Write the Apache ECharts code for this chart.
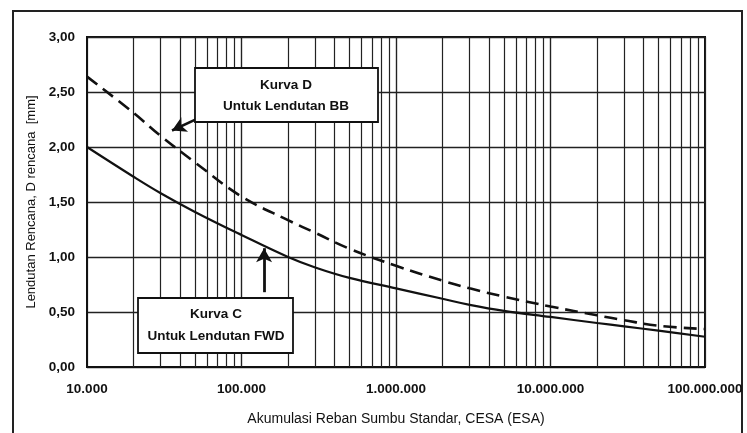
<!DOCTYPE html>
<html>
<head>
<meta charset="utf-8">
<script src="https://cdn.jsdelivr.net/npm/echarts@6/dist/echarts.min.js"></script>
<style>
html,body{margin:0;padding:0;background:#fff;}
#c{width:747px;height:433px;}
</style>
</head>
<body>
<div id="c"></div>
<script>
// ---- data ----
var esaValues = [1e4, 2e4, 3e4, 5e4, 1e5, 2e5, 3e5, 5e5, 1e6, 2e6, 3e6, 5e6, 1e7, 2e7, 3e7, 5e7, 1e8];
var kurvaD = [2.64, 2.31, 2.10, 1.86, 1.55, 1.335, 1.22, 1.075, 0.92, 0.785, 0.715, 0.64, 0.55, 0.47, 0.425, 0.375, 0.345];
var kurvaC = [2.00, 1.73, 1.58, 1.41, 1.20, 1.00, 0.905, 0.81, 0.715, 0.62, 0.565, 0.51, 0.455, 0.40, 0.37, 0.33, 0.275];
var xTickLabels = ['10.000', '100.000', '1.000.000', '10.000.000', '100.000.000'];
var minorGridX = [];
[1e4, 1e5, 1e6, 1e7].forEach(function (d) {
  for (var k = 2; k <= 10; k++) { if (!(k === 10 && d === 1e7)) minorGridX.push(k * d); }
});
var labelD = ['Kurva D', 'Untuk Lendutan BB'];
var labelC = ['Kurva C', 'Untuk Lendutan FWD'];
var arrowD = [[5.4e4, 2.27], [3.55e4, 2.15]];
var arrowC = [[1.4e5, 0.68], [1.4e5, 1.08]];

var FONT = '"Liberation Sans", Arial, sans-serif';
var chart = echarts.init(document.getElementById('c'));

function pairs(xs, ys) { return xs.map(function (x, i) { return [x, ys[i]]; }); }

var option = {
  animation: false,
  backgroundColor: '#fff',
  grid: { left: 87, right: 42, top: 37, bottom: 66, show: true, borderColor: '#111', borderWidth: 2, containLabel: false },
  xAxis: {
    type: 'log', logBase: 10, min: 1e4, max: 1e8,
    axisLine: { show: true, lineStyle: { color: '#111', width: 2 } },
    axisTick: { show: false },
    splitLine: { show: true, lineStyle: { color: '#222', width: 1.2 } },
    axisLabel: {
      margin: 15, fontFamily: FONT, fontSize: 13.5, color: '#111', fontWeight: 'bold',
      formatter: function (v) {
        var i = Math.round(Math.log10(v)) - 4;
        return xTickLabels[i] || '';
      }
    },
    name: 'Akumulasi Reban Sumbu Standar, CESA (ESA)',
    nameLocation: 'middle', nameGap: 45,
    nameTextStyle: { fontFamily: FONT, fontSize: 14, color: '#111' }
  },
  yAxis: {
    type: 'value', min: 0, max: 3, interval: 0.5,
    axisLine: { show: true, lineStyle: { color: '#111', width: 2 } },
    axisTick: { show: false },
    splitLine: { show: true, lineStyle: { color: '#222', width: 1.3 } },
    axisLabel: {
      margin: 12, fontFamily: FONT, fontSize: 13.5, color: '#111', fontWeight: 'bold',
      formatter: function (v) { return v.toFixed(2).replace('.', ','); }
    },
    name: 'Lendutan Rencana, D rencana  [mm]',
    nameLocation: 'middle', nameGap: 41, nameRotate: 90,
    nameTextStyle: { fontFamily: FONT, fontSize: 13, color: '#111' }
  },
  series: [
    {
      name: 'grid', type: 'line', data: [], silent: true,
      markLine: {
        silent: true, symbol: ['none', 'none'], label: { show: false },
        lineStyle: { color: '#222', width: 1.2, type: 'solid' },
        data: minorGridX.map(function (x) { return { xAxis: x }; })
      }
    },
    {
      name: 'Kurva D', type: 'line', data: pairs(esaValues, kurvaD), smooth: 0.4,
      showSymbol: false, lineStyle: { color: '#111', width: 2.6, type: [13, 7] }, z: 5,
      markLine: {
        silent: true, symbol: ['none', 'arrow'], symbolSize: [12, 14], label: { show: false },
        lineStyle: { color: '#111', width: 2.5, type: 'solid' },
        data: [[{ coord: arrowD[0] }, { coord: arrowD[1] }]]
      }
    },
    {
      name: 'Kurva C', type: 'line', data: pairs(esaValues, kurvaC), smooth: 0.4,
      showSymbol: false, lineStyle: { color: '#111', width: 2.2, type: 'solid' }, z: 5,
      markLine: {
        silent: true, symbol: ['none', 'arrow'], symbolSize: [12, 14], label: { show: false },
        lineStyle: { color: '#111', width: 2.8, type: 'solid' },
        data: [[{ coord: arrowC[0] }, { coord: arrowC[1] }]]
      }
    }
  ],
  graphic: [
    { type: 'rect', shape: { x: 13, y: 11, width: 729, height: 440 }, style: { fill: 'none', stroke: '#222', lineWidth: 2 }, silent: true },
    { type: 'rect', shape: { x: 195, y: 68, width: 183, height: 54 }, style: { fill: '#fff', stroke: '#111', lineWidth: 1.8 }, z: 10 },
    { type: 'text', x: 286, y: 85, style: { text: labelD[0], fontFamily: FONT, fontSize: 13.5, fontWeight: 'bold', fill: '#111', align: 'center', verticalAlign: 'middle' }, z: 11 },
    { type: 'text', x: 286, y: 106, style: { text: labelD[1], fontFamily: FONT, fontSize: 13.5, fontWeight: 'bold', fill: '#111', align: 'center', verticalAlign: 'middle' }, z: 11 },
    { type: 'rect', shape: { x: 138, y: 298, width: 155, height: 55 }, style: { fill: '#fff', stroke: '#111', lineWidth: 1.8 }, z: 10 },
    { type: 'text', x: 216, y: 314, style: { text: labelC[0], fontFamily: FONT, fontSize: 13.5, fontWeight: 'bold', fill: '#111', align: 'center', verticalAlign: 'middle' }, z: 11 },
    { type: 'text', x: 216, y: 336, style: { text: labelC[1], fontFamily: FONT, fontSize: 13.5, fontWeight: 'bold', fill: '#111', align: 'center', verticalAlign: 'middle' }, z: 11 }
  ]
};
chart.setOption(option);
</script>
</body>
</html>
